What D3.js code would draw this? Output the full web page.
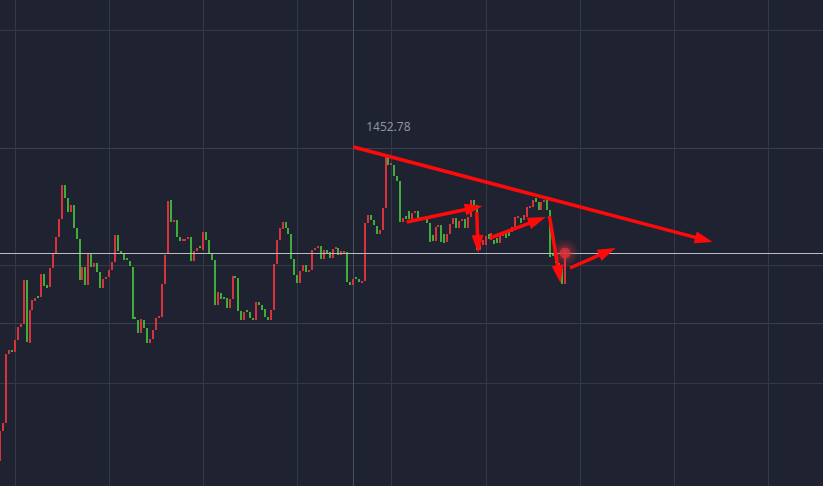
<!DOCTYPE html>
<html><head><meta charset="utf-8">
<script src="https://cdn.jsdelivr.net/npm/d3@7"></script>
<style>html,body{margin:0;padding:0;background:#1f2331;overflow:hidden}</style>
</head><body>
<svg id="c" width="823" height="486"></svg>
<script>
// ---- data (prices) ----
const open = [
1422.4,1425.4,1426.2,1433.1,1433.5,1433.3,1434.5,1435.8,1436.1,1440.5,
1434.2,1437.5,1438.4,1438.9,1438.8,1441.1,1440.0,1439.8,1441.7,1443.1,
1444.8,1446.6,1450.0,1448.7,1447.3,1448.0,1445.7,1444.6,1440.5,1441.8,
1440.0,1443.1,1441.8,1442.2,1441.3,1439.7,1440.6,1440.8,1441.5,1442.3,
1445.0,1443.4,1443.2,1442.7,1442.4,1441.8,1436.8,1436.5,1435.2,1436.5,
1435.7,1434.2,1434.6,1435.5,1436.7,1436.8,1440.1,1443.2,1448.5,1446.3,
1446.5,1444.8,1444.4,1444.4,1444.6,1444.8,1442.4,1443.4,1443.9,1443.5,
1445.3,1444.5,1443.2,1442.5,1438.0,1439.2,1438.8,1438.7,1437.7,1438.6,
1440.9,1440.7,1437.4,1436.5,1437.5,1437.3,1436.7,1436.5,1438.3,1438.0,
1437.6,1436.8,1436.5,1437.5,1442.1,1444.5,1445.6,1446.3,1445.7,1445.1,
1442.6,1441.0,1440.2,1441.4,1442.0,1441.3,1441.5,1443.5,1443.7,1443.9,
1442.6,1443.5,1443.3,1442.7,1443.6,1443.7,1443.0,1443.2,1443.3,1440.3,
1440.0,1440.8,1440.6,1440.3,1440.4,1446.2,1447.0,1446.5,1445.9,1445.1,
1445.5,1447.7,1452.8,1452.0,1452.0,1450.9,1450.4,1446.3,1446.9,1447.4,
1446.6,1447.2,1447.4,1446.6,1446.8,1446.6,1446.2,1445.0,1444.4,1445.8,
1446.0,1445.1,1444.3,1445.1,1446.1,1446.7,1445.7,1446.4,1446.6,1445.7,
1446.8,1448.5,1448.0,1443.5,1444.0,1444.0,1445.1,1444.5,1444.5,1444.7,
1444.2,1444.9,1445.2,1445.5,1445.3,1445.8,1446.7,1446.7,1446.5,1446.8,
1447.7,1447.8,1448.7,1448.3,1447.5,1448.3,1448.5,1447.5,1443.1,1442.9,
1442.2,1441.9,1440.1];
const close = [
1425.4,1426.2,1433.1,1433.5,1433.3,1434.5,1435.8,1436.1,1440.5,1434.3,
1437.5,1438.5,1438.7,1438.7,1441.1,1439.9,1439.7,1441.7,1443.1,1444.8,
1446.6,1450.0,1448.7,1447.3,1448.0,1445.7,1444.6,1440.5,1441.8,1440.0,
1443.1,1441.8,1442.2,1441.3,1439.7,1440.6,1440.8,1441.5,1442.3,1445.0,
1443.4,1443.2,1442.5,1442.5,1441.9,1436.6,1436.6,1435.2,1436.6,1435.7,
1434.2,1434.6,1435.5,1436.7,1436.9,1440.1,1443.0,1448.4,1446.3,1446.5,
1444.8,1444.4,1444.6,1444.6,1444.8,1442.4,1443.4,1443.7,1443.7,1445.3,
1444.5,1443.2,1442.5,1438.0,1439.3,1438.6,1438.6,1437.7,1438.6,1440.9,
1440.7,1437.4,1436.5,1437.3,1437.3,1436.7,1436.5,1438.3,1438.0,1437.5,
1436.8,1436.5,1437.5,1442.1,1444.5,1445.7,1446.3,1445.7,1445.1,1442.6,
1441.0,1440.2,1441.4,1442.0,1441.3,1441.5,1443.5,1443.7,1443.9,1442.6,
1443.5,1443.1,1442.7,1443.6,1443.8,1443.0,1443.4,1443.4,1440.3,1440.0,
1440.6,1440.6,1440.3,1440.4,1446.2,1447.0,1446.5,1446.0,1445.1,1445.5,
1447.7,1452.8,1452.0,1452.2,1450.9,1450.4,1446.3,1446.7,1446.6,1446.6,
1447.2,1447.4,1446.7,1446.8,1446.6,1446.2,1444.3,1444.4,1445.8,1446.0,
1444.3,1444.2,1445.1,1446.1,1446.7,1445.7,1446.4,1446.6,1445.7,1446.8,
1448.5,1448.0,1443.5,1444.0,1444.5,1444.9,1444.6,1445.2,1444.1,1444.2,
1444.9,1445.1,1444.7,1444.9,1445.8,1446.8,1446.9,1446.2,1447.0,1447.8,
1447.9,1448.5,1448.3,1447.5,1448.3,1448.5,1447.5,1442.8,1442.9,1442.2,
1441.9,1440.1,1443.5];
const categories = d3.range(open.length);          // candle index
const yTicks = [1465.5, 1453.7, 1442.0, 1436.2, 1430.2];
const xTicks = [5, 37, 69, 101, 133, 165, 197, 229, 261];
const crosshairIndex = 120;
const lastPrice = 1443.2;
const highLabel = "1452.78";
// annotation arrows: [index1, price1, index2, price2]
const trendLine = [120.05, 1453.8, 242.2, 1444.3];
const arrows = [
  [138.2, 1446.3, 164.0, 1447.9],
  [162.0, 1447.3, 162.5, 1443.2],
  [166.5, 1444.7, 185.5, 1446.8],
  [186.7, 1446.9, 190.5, 1440.2],
  [193.7, 1441.7, 209.2, 1443.7]
];

// ---- scales ----
const W = 823, H = 486;
const x = d3.scaleLinear().domain([0, 192]).range([0.12, 565]);
const y = d3.scaleLinear().domain([1468.5, 1419.9]).range([0, H]);

const svg = d3.select("#c");
svg.append("rect").attr("width", W).attr("height", H).attr("fill", "#1f2331");

// grid
const grid = svg.append("g").attr("shape-rendering", "crispEdges");
grid.selectAll(".h").data(yTicks).join("line")
  .attr("x1", 0).attr("x2", W)
  .attr("y1", d => Math.round(y(d)) + 0.5).attr("y2", d => Math.round(y(d)) + 0.5)
  .attr("stroke", (d, i) => (i === 1 || i === 3) ? "#3a404e" : "#323846").attr("stroke-width", 1);
grid.selectAll(".v").data(xTicks).join("line")
  .attr("y1", 0).attr("y2", H)
  .attr("x1", d => Math.round(x(d)) + 0.5).attr("x2", d => Math.round(x(d)) + 0.5)
  .attr("stroke", "#323846").attr("stroke-width", 1);
// crosshair
grid.append("line")
  .attr("y1", 0).attr("y2", H)
  .attr("x1", Math.round(x(crosshairIndex)) + 0.5).attr("x2", Math.round(x(crosshairIndex)) + 0.5)
  .attr("stroke", "#4a5060");

// candles
const up = "#d8333c", down = "#3fae38";
svg.append("g").attr("shape-rendering", "crispEdges")
  .selectAll("rect").data(categories).join("rect")
  .attr("x", i => Math.round(x(i)) - 1)
  .attr("width", 2)
  .attr("y", i => Math.round(y(Math.max(open[i], close[i]))))
  .attr("height", i => Math.max(2, Math.round(Math.abs(y(open[i]) - y(close[i])))))
  .attr("fill", i => close[i] >= open[i] ? up : down);

// last price line
svg.append("line").attr("x1", 0).attr("x2", W)
  .attr("y1", Math.round(y(lastPrice)) + 0.5).attr("y2", Math.round(y(lastPrice)) + 0.5)
  .attr("stroke", "#b9bcc2").attr("stroke-width", 1).attr("shape-rendering", "crispEdges");

// glow dot
const defs = svg.append("defs");
const rg = defs.append("radialGradient").attr("id", "glow");
rg.append("stop").attr("offset", "0%").attr("stop-color", "#e0303a").attr("stop-opacity", 0.6);
rg.append("stop").attr("offset", "100%").attr("stop-color", "#e0303a").attr("stop-opacity", 0);
const lastI = categories[categories.length - 1];
svg.append("circle").attr("cx", x(lastI)).attr("cy", y(lastPrice)).attr("r", 14).attr("fill", "url(#glow)");
svg.append("circle").attr("cx", x(lastI)).attr("cy", y(lastPrice)).attr("r", 5.5).attr("fill", "#d8333c").attr("opacity", 0.75);

// arrows
const ann = svg.append("g");
function arrow(a, w, hl, hw) {
  const x1 = x(a[0]), y1 = y(a[1]), x2 = x(a[2]), y2 = y(a[3]);
  const dx = x2 - x1, dy = y2 - y1, L = Math.hypot(dx, dy), ux = dx / L, uy = dy / L;
  const bx = x2 - ux * hl, by = y2 - uy * hl;
  ann.append("line").attr("x1", x1).attr("y1", y1).attr("x2", bx + ux * 2).attr("y2", by + uy * 2)
    .attr("stroke", "#ff0a0a").attr("stroke-width", w);
  ann.append("polygon")
    .attr("points", [[x2, y2], [bx - uy * hw / 2, by + ux * hw / 2], [bx + uy * hw / 2, by - ux * hw / 2]].map(p => p.join(",")).join(" "))
    .attr("fill", "#ff0a0a");
}
arrow(trendLine, 3.5, 18, 12);
arrows.forEach(a => arrow(a, 3.5, 18, 12));

// label
svg.append("text")
  .attr("x", x(crosshairIndex) + 13).attr("y", y(trendLine[1]) - 16)
  .attr("font-family", "'Noto Sans', 'Open Sans', sans-serif").attr("font-size", 12)
  .attr("fill", "#8d929c").text(highLabel);
</script>
</body></html>
